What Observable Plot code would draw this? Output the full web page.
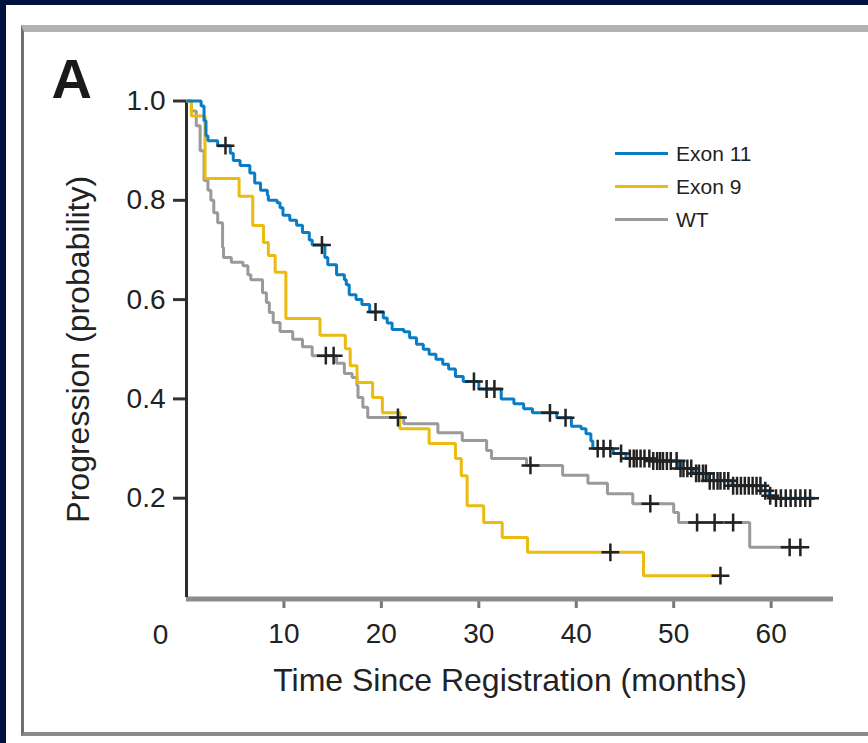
<!DOCTYPE html>
<html>
<head>
<meta charset="utf-8">
<script src="https://cdn.jsdelivr.net/npm/d3@7"></script>
<script src="https://cdn.jsdelivr.net/npm/@observablehq/plot@0.6"></script>
<style>
  html, body { margin: 0; padding: 0; }
  body { width: 868px; height: 743px; background: #00113d; position: relative; overflow: hidden;
         font-family: "Liberation Sans", Arial, Helvetica, sans-serif; }
  #page { position: absolute; left: 6px; top: 5px; width: 862px; height: 738px; background: #fff; }
  #panel { position: absolute; left: 21px; top: 25px; width: 900px; height: 700px;
           border-left: 3px solid #707070; border-top: 7px solid #b2b2b2; border-bottom: 4px solid #8a8a8a; }
  #chart { position: absolute; left: 0; top: 0; }
  #legend { position: absolute; left: 615px; top: 137px; }
  .row { display: flex; align-items: center; height: 33px; font-size: 21px; color: #222; }
  .swatch { width: 53px; height: 3px; margin-right: 8px; }
</style>
</head>
<body>
<div id="page"></div>
<div id="panel"></div>
<div id="chart"></div>
<div id="legend"></div>
<script>
// ---- data ----
const seriesNames = ["Exon 11", "Exon 9", "WT"];
const seriesColors = ["#0a7cc6", "#ebbb0e", "#9a9a9a"];

const exon11Time = [0, 1.5, 1.8, 2.0, 2.2, 3.2, 4.5, 4.8, 5.5, 6.5, 7.0, 7.6, 8.3, 8.4, 9.3, 9.6, 9.9, 10.6, 11.3, 11.9, 12.6, 12.9, 14.2, 14.5, 15.4, 16.2, 16.4, 16.7, 17.4, 18.0, 18.8, 20.2, 20.6, 21.1, 22.3, 22.9, 23.6, 24.3, 24.9, 25.6, 26.3, 26.9, 27.6, 28.4, 30.0, 32.3, 33.6, 34.6, 35.5, 38.0, 39.5, 40.5, 41.0, 41.5, 41.7, 43.8, 45.1, 47.6, 50.5, 52.0, 53.5, 56.0, 59.0, 59.8, 60.3, 64.5];
const exon11Surv = [1.0, 0.99, 0.96, 0.93, 0.92, 0.91, 0.895, 0.88, 0.87, 0.855, 0.835, 0.82, 0.81, 0.80, 0.795, 0.785, 0.77, 0.76, 0.75, 0.735, 0.72, 0.71, 0.685, 0.67, 0.65, 0.64, 0.63, 0.61, 0.60, 0.59, 0.575, 0.563, 0.553, 0.54, 0.535, 0.523, 0.51, 0.50, 0.49, 0.48, 0.47, 0.46, 0.445, 0.435, 0.42, 0.40, 0.39, 0.38, 0.372, 0.362, 0.345, 0.34, 0.33, 0.315, 0.30, 0.29, 0.28, 0.275, 0.26, 0.25, 0.235, 0.225, 0.215, 0.205, 0.20, 0.20];
const exon11Censor = [4.0, 13.9, 19.4, 29.5, 30.8, 31.6, 37.3, 38.9, 42.2, 42.8, 43.5, 44.6, 45.5, 45.9, 46.2, 46.6, 47.0, 47.5, 47.9, 48.3, 48.6, 48.9, 49.3, 49.7, 50.3, 50.7, 51.0, 51.4, 51.8, 52.3, 52.6, 53.0, 53.3, 53.7, 54.1, 54.5, 54.8, 55.2, 55.6, 56.1, 56.5, 56.9, 57.3, 57.7, 58.1, 58.5, 58.9, 59.4, 59.9, 60.5, 61.0, 61.5, 62.0, 62.5, 63.0, 63.5, 64.0];

const exon9Time = [0, 0.5, 1.9, 5.4, 6.8, 7.9, 8.4, 9.1, 10.2, 13.7, 16.3, 16.8, 17.5, 19.1, 20.1, 21.9, 24.9, 27.6, 28.2, 28.8, 30.5, 32.4, 35.0, 46.9, 54.8];
const exon9Surv = [1.0, 0.97, 0.844, 0.808, 0.749, 0.715, 0.689, 0.655, 0.562, 0.528, 0.501, 0.467, 0.433, 0.403, 0.372, 0.340, 0.310, 0.280, 0.245, 0.185, 0.151, 0.121, 0.091, 0.044, 0.044];
const exon9Censor = [43.5, 54.8];

const wtTime = [0, 0.5, 1.0, 1.4, 1.8, 2.2, 2.5, 2.8, 3.2, 3.7, 3.8, 4.6, 5.8, 6.3, 6.6, 7.8, 8.2, 8.5, 8.9, 9.6, 10.9, 11.9, 12.9, 15.4, 16.2, 17.0, 17.5, 17.6, 18.1, 18.6, 22.3, 25.8, 28.3, 30.8, 31.3, 34.9, 38.6, 41.2, 43.2, 45.8, 50.0, 50.5, 57.8, 63.0];
const wtSurv = [1.0, 0.98, 0.95, 0.90, 0.84, 0.82, 0.80, 0.775, 0.755, 0.705, 0.685, 0.675, 0.668, 0.650, 0.640, 0.614, 0.594, 0.574, 0.554, 0.536, 0.52, 0.505, 0.487, 0.472, 0.451, 0.443, 0.427, 0.403, 0.383, 0.3625, 0.350, 0.332, 0.316, 0.296, 0.280, 0.266, 0.246, 0.23, 0.209, 0.189, 0.171, 0.151, 0.101, 0.101];
const wtCensor = [14.3, 15.1, 21.7, 35.3, 47.6, 52.4, 54.2, 56.1, 61.9, 63.0];

const xTicks = [10, 20, 30, 40, 50, 60];
const yTicks = [0.2, 0.4, 0.6, 0.8, 1.0];
const originLabel = ["0"];
const panelLabel = ["A"];
const xTitle = ["Time Since Registration (months)"];
const yTitle = ["Progression (probability)"];

// ---- build tables ----
const curves = [
  {name: seriesNames[0], t: exon11Time, s: exon11Surv, c: exon11Censor, color: seriesColors[0]},
  {name: seriesNames[1], t: exon9Time, s: exon9Surv, c: exon9Censor, color: seriesColors[1]},
  {name: seriesNames[2], t: wtTime, s: wtSurv, c: wtCensor, color: seriesColors[2]}
];
function survAt(t, s, x) { let v = s[0]; for (let i = 0; i < t.length; i++) if (t[i] <= x) v = s[i]; return v; }
const lineRows = c => c.t.map((t, i) => ({time: t, surv: c.s[i]}));
const censorRows = curves.flatMap(c => c.c.map(x => ({time: x, surv: survAt(c.t, c.s, x)})));

const font = '"Liberation Sans", Arial, Helvetica, sans-serif';
const drawOrder = [2, 1, 0];

const chart = Plot.plot({
  width: 868, height: 743,
  marginLeft: 186, marginRight: 35, marginTop: 100.5, marginBottom: 146,
  x: {domain: [0, 66.4]},
  y: {domain: [0, 1]},
  style: {background: "transparent", fontFamily: font, overflow: "visible", color: "#222"},
  marks: [
    Plot.axisY({ticks: yTicks, tickFormat: d => d.toFixed(1), tickSize: 13, tickPadding: 8,
                fontSize: 28, fill: "#222", stroke: "#333", strokeWidth: 3, label: null}),
    Plot.axisX({ticks: xTicks, tickFormat: d => String(d), tickSize: 11, tickPadding: 15,
                fontSize: 28, fill: "#222", stroke: "#777", strokeWidth: 3, label: null}),
    Plot.text(originLabel, {x: () => 0, y: () => 0, text: d => d, dx: -26, dy: 46, lineAnchor: "bottom",
                fontSize: 28, fill: "#222"}),
    Plot.ruleY([0], {stroke: "#8c8c8c", strokeWidth: 5, dy: 1.5}),
    Plot.ruleX([0], {stroke: "#2b2b2b", strokeWidth: 3}),
    ...drawOrder.map(i => Plot.line(lineRows(curves[i]), {x: "time", y: "surv", curve: "step-after",
                stroke: curves[i].color, strokeWidth: 3, strokeLinejoin: "miter", strokeLinecap: "butt"})),
    Plot.dot(censorRows, {x: "time", y: "surv", symbol: "plus", r: 5.8, stroke: "#222", fill: "none", strokeWidth: 2.5}),
    Plot.text(panelLabel, {frameAnchor: "top-left", text: d => d, dx: -135, dy: -3.5, textAnchor: "start",
                lineAnchor: "bottom", fontSize: 56, fontWeight: "bold", fill: "#1a1a1a"}),
    Plot.text(xTitle, {frameAnchor: "bottom", text: d => d, dy: 93, textAnchor: "middle", lineAnchor: "bottom", fontSize: 32, fill: "#222"}),
    Plot.text(yTitle, {frameAnchor: "left", text: d => d, dx: -108, rotate: -90, textAnchor: "middle", lineAnchor: "middle", fontSize: 32, fill: "#222"})
  ]
});
document.getElementById("chart").appendChild(chart);

const legend = document.getElementById("legend");
curves.forEach(c => {
  const row = document.createElement("div");
  row.className = "row";
  const sw = document.createElement("span");
  sw.className = "swatch";
  sw.style.background = c.color;
  const lab = document.createElement("span");
  lab.textContent = c.name;
  row.appendChild(sw); row.appendChild(lab);
  legend.appendChild(row);
});
</script>
</body>
</html>
